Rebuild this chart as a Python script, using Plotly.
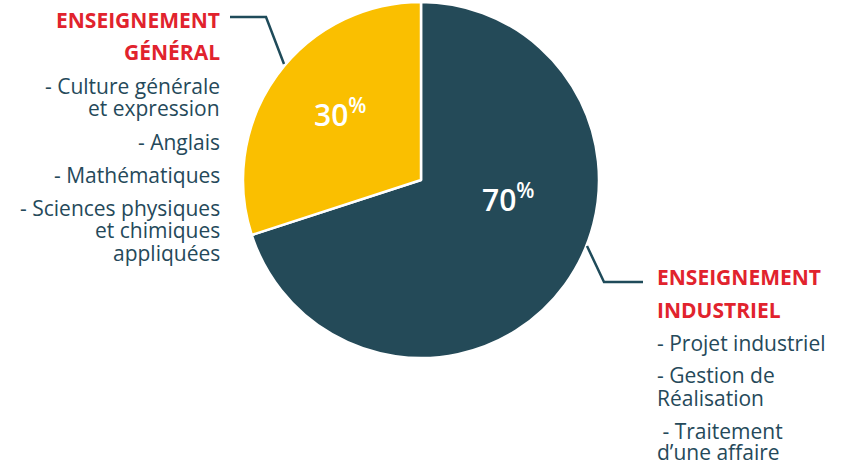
import plotly.graph_objects as go

W, H = 849, 465

categories = ["Enseignement industriel", "Enseignement général"]
values = [70, 30]
colors = ["#244A58", "#FABF00"]
value_label_pos = [(508, 198), (340, 113)]  # pixel centres of the percentage labels

left_title = ["ENSEIGNEMENT", "GÉNÉRAL"]
left_items = ["- Culture générale", "et expression", "- Anglais", "- Mathématiques",
              "- Sciences physiques", "et chimiques", "appliquées"]
right_title = ["ENSEIGNEMENT", "INDUSTRIEL"]
right_items = ["- Projet industriel", "- Gestion de", "Réalisation", " - Traitement", "d’une affaire"]

RED = "#E1232D"
TXT = "#25495A"
FONT = "Open Sans"

def px(x):
    return x / W

def py(y):
    return 1 - y / H

fig = go.Figure(go.Pie(
    labels=categories,
    values=values,
    marker=dict(colors=colors, line=dict(color="white", width=2.5)),
    sort=False,
    direction="clockwise",
    rotation=0,
    textinfo="none",
    hoverinfo="label+percent",
    hole=0,
    showlegend=False,
    domain=dict(x=[px(243), px(599)], y=[py(358), py(2)]),
))

annotations = []
for v, (x, y) in zip(values, value_label_pos):
    annotations.append(dict(text=f"{v}<sup>%</sup>", x=px(x), y=py(y), xanchor="center", yanchor="middle",
                            font=dict(family=FONT, size=30, color="white", weight=600)))

left_y = [20, 52]
for t, y in zip(left_title, left_y):
    annotations.append(dict(text=t, x=px(221), y=py(y), xanchor="right", yanchor="middle",
                            font=dict(family=FONT, size=21, color=RED, weight=700)))
left_item_y = [86, 108, 142, 175, 208, 230, 253]
for t, y in zip(left_items, left_item_y):
    annotations.append(dict(text=t, x=px(221), y=py(y), xanchor="right", yanchor="middle",
                            font=dict(family=FONT, size=21, color=TXT)))
right_y = [277, 310]
for t, y in zip(right_title, right_y):
    annotations.append(dict(text=t, x=px(656), y=py(y), xanchor="left", yanchor="middle",
                            font=dict(family=FONT, size=21, color=RED, weight=700)))
right_item_y = [343, 375, 398, 431, 452]
for t, y in zip(right_items, right_item_y):
    annotations.append(dict(text=t, x=px(656), y=py(y), xanchor="left", yanchor="middle",
                            font=dict(family=FONT, size=21, color=TXT)))

for a in annotations:
    a.update(xref="paper", yref="paper", showarrow=False, borderpad=0)

LINE = "#1F4B5A"
shapes = [
    dict(type="path", xref="paper", yref="paper",
         path=f"M {px(230)} {py(17)} L {px(266)} {py(17)} L {px(284)} {py(64)}",
         line=dict(color=LINE, width=2.5)),
    dict(type="path", xref="paper", yref="paper",
         path=f"M {px(587)} {py(246)} L {px(604)} {py(282)} L {px(643)} {py(282)}",
         line=dict(color=LINE, width=2.5)),
]

fig.update_layout(
    width=W, height=H,
    margin=dict(l=0, r=0, t=0, b=0),
    paper_bgcolor="white",
    plot_bgcolor="white",
    annotations=annotations,
    shapes=shapes,
)

fig.write_html("out.html", config={"displayModeBar": False},
               post_script="document.body.style.margin='0';document.body.style.overflow='hidden';")
